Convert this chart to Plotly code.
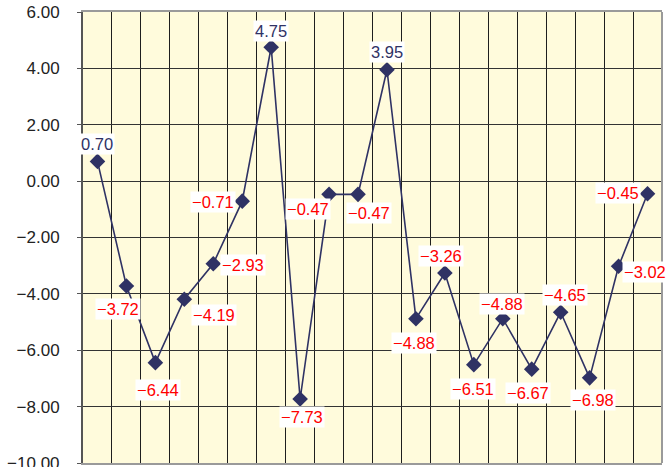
import plotly.graph_objects as go

# ---- data ----
positions = list(range(20))
values = [0.70, -3.72, -6.44, -4.19, -2.93, -0.71, 4.75, -7.73, -0.47, -0.47,
          3.95, -4.88, -3.26, -6.51, -4.88, -6.67, -4.65, -6.98, -3.02, -0.45]
y_ticks = [-10, -8, -6, -4, -2, 0, 2, 4, 6]
y_tick_labels = [f"{t:.2f}".replace("-", "\u2212") for t in y_ticks]

# label offsets (px; x right, y up) per point – style only
label_dx = [0, -8, 3, 30, 30, -29, 0, 2, -21, 11, 0, -2, -4, -1, -1, -4, 4, 3, 26, -30]
label_dy = [17, -23, -27, -16, -1, -1, 16, -18, -15, -19, 18, -24, 17, -24, 15, -24, 17, -22, -6, 1]

NAVY = "#2f3264"
fig = go.Figure()
fig.add_trace(go.Scatter(
    x=positions, y=values, mode="lines+markers",
    line=dict(color=NAVY, width=1.6),
    marker=dict(symbol="diamond", size=12, color=NAVY),
    hoverinfo="skip", showlegend=False,
))

for x, v, dx, dy in zip(positions, values, label_dx, label_dy):
    txt = f"{v:.2f}".replace("-", "\u2212")
    fig.add_annotation(
        x=x, y=v, text=txt, showarrow=False, xshift=dx, yshift=dy,
        font=dict(family="Liberation Sans, Arial", size=16.5,
                  color=(NAVY if v >= 0 else "#ff0000")),
        bgcolor="white", borderpad=1,
    )

# right border
fig.add_shape(type="line", xref="paper", yref="paper", x0=1, x1=1, y0=0, y1=1,
              line=dict(color="#9a9a9a", width=2))

fig.update_layout(
    width=667, height=467,
    margin=dict(l=83, r=5, t=12, b=4, autoexpand=False),
    paper_bgcolor="white", plot_bgcolor="#fffbdc",
    xaxis=dict(range=[-0.5, 19.5], tick0=0.5, dtick=1, showticklabels=False,
               showgrid=True, gridcolor="#1e1e1e", gridwidth=1, zeroline=False,
               showline=True, mirror=True, linecolor="#9a9a9a", linewidth=2,
               ticks="", automargin=False),
    yaxis=dict(range=[-10, 6], tickvals=y_ticks, ticktext=y_tick_labels,
               showgrid=True, gridcolor="#333333", gridwidth=1, zeroline=False,
               showline=True, linecolor="#555555", linewidth=2,
               ticks="outside", ticklen=4, tickcolor="#555555",
               ticklabelstandoff=14, ticklabeloverflow="allow", automargin=False,
               tickfont=dict(family="Liberation Sans, Arial", size=17, color="#222222")),
)

fig.write_html("out.html")
